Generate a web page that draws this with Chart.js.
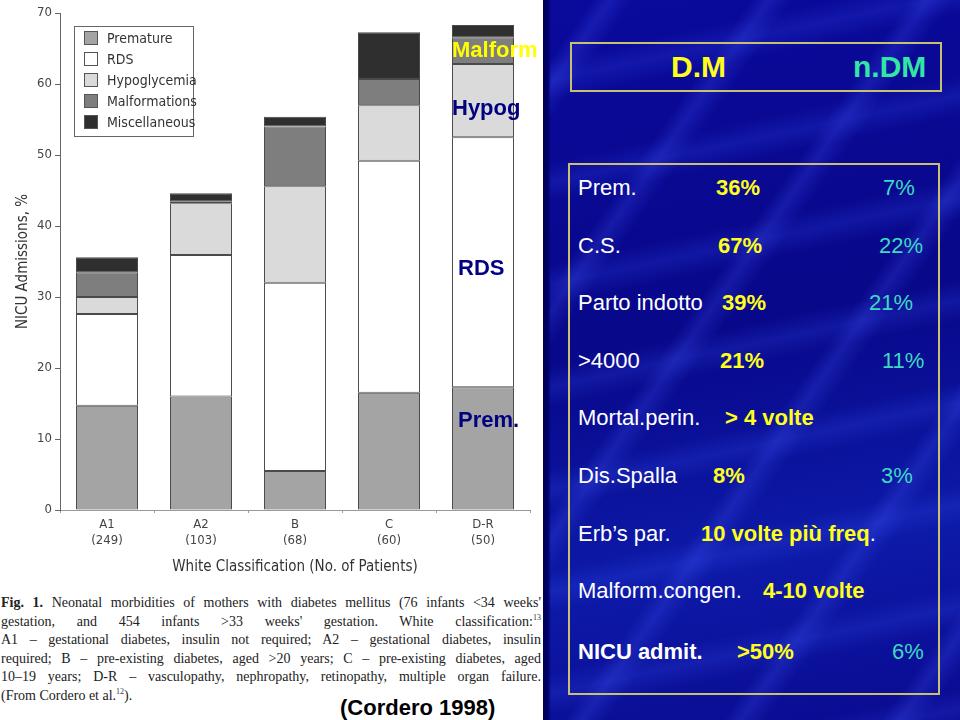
<!DOCTYPE html>
<html>
<head>
<meta charset="utf-8">
<script src="https://cdn.jsdelivr.net/npm/chart.js@4.4.0/dist/chart.umd.min.js"></script>
<style>
  html, body { margin: 0; padding: 0; }
  body { width: 960px; height: 720px; position: relative; overflow: hidden; background: #fff; }
  #white { position: absolute; left: 0; top: 0; width: 543px; height: 720px; background: #fff; }
  #chart { position: absolute; left: 0; top: 0; }
  #legend { position: absolute; left: 74px; top: 26px; width: 118px; height: 109px; border: 1px solid #666; background: #fff;
            font-family: 'Liberation Sans Narrow', 'DejaVu Sans Condensed', sans-serif; font-size: 14px; color: #333; }
  #legend div { position: absolute; left: 9px; height: 14px; line-height: 14px; white-space: nowrap; }
  #legend span { display: inline-block; width: 12px; height: 12px; border: 1px solid #555; vertical-align: top; margin-right: 9px; }
  .over { position: absolute; font-family: 'Liberation Sans', Arial, sans-serif; font-weight: bold; font-size: 22px; line-height: 22px; white-space: nowrap; }
  #caption { position: absolute; left: 1px; top: 594px; width: 540px; font-family: 'Liberation Serif', serif; font-size: 14px; color: #222; }
  #caption div { height: 18.6px; line-height: 18.6px; text-align: justify; text-align-last: justify; white-space: nowrap; }
  #caption div.last { text-align-last: left; }
  #caption sup { font-size: 8px; color: #334; line-height: 0; }
  #blue { position: absolute; left: 543px; top: 0; width: 417px; height: 720px; overflow: hidden;
          background:
            linear-gradient(90deg, #000050 0px, #00006a 5px, rgba(0,0,0,0) 8px),
            repeating-linear-gradient(125deg, rgba(60,80,255,0.0) 0px, rgba(60,80,255,0.0) 40px, rgba(70,90,255,0.22) 55px, rgba(60,80,255,0.0) 75px, rgba(60,80,255,0) 130px),
            repeating-linear-gradient(168deg, rgba(50,70,255,0) 0px, rgba(50,70,255,0) 60px, rgba(60,90,255,0.18) 80px, rgba(50,70,255,0) 100px),
            linear-gradient(170deg, #0a0a9c 0%, #08088a 45%, #0d1aa8 75%, #0a0a90 100%); }
  .box { position: absolute; border: 2px solid #c8c070; box-sizing: border-box; }
  .t { position: absolute; font-family: 'Liberation Sans', Arial, sans-serif; font-size: 22px; line-height: 22px; white-space: nowrap; color: #fff; }
  .y { color: #ffff1a; font-weight: bold; }
  .g { color: #3ed8c2; }
</style>
</head>
<body>
<div id="white"></div>
<canvas id="chart" width="543" height="580"></canvas>
<div id="legend"></div>

<div class="over" style="left:452px; top:39px; color:#ffff00;">Malform</div>
<div class="over" style="left:452px; top:97px; color:#000080;">Hypog</div>
<div class="over" style="left:458px; top:257px; color:#000080;">RDS</div>
<div class="over" style="left:458px; top:409px; color:#000080;">Prem.</div>

<div id="caption">
  <div><b>Fig. 1.</b> Neonatal morbidities of mothers with diabetes mellitus (76 infants &lt;34 weeks'</div>
  <div>gestation, and 454 infants &gt;33 weeks' gestation. White classification:<sup>13</sup></div>
  <div>A1 – gestational diabetes, insulin not required; A2 – gestational diabetes, insulin</div>
  <div>required; B – pre-existing diabetes, aged &gt;20 years; C – pre-existing diabetes, aged</div>
  <div>10–19 years; D-R – vasculopathy, nephropathy, retinopathy, multiple organ failure.</div>
  <div class="last">(From Cordero et al.<sup>12</sup>).</div>
</div>
<div class="over" style="left:340px; top:697px; color:#000; font-size:22px;">(Cordero 1998)</div>

<div id="blue"></div>
<div class="box" style="left:570px; top:42px; width:372px; height:50px;"></div>
<div class="t y" style="left:671px; top:52px; font-size:30px; line-height:30px;">D.M</div>
<div class="t" style="left:853px; top:52px; font-size:30px; line-height:30px; font-weight:bold; color:#33e6a6;">n.DM</div>
<div class="box" style="left:568px; top:163px; width:372px; height:532px;"></div>
<div id="table"></div>

<script>
// White classification groups (No. of patients)
const categories = [["A1", "(249)"], ["A2", "(103)"], ["B", "(68)"], ["C", "(60)"], ["D-R", "(50)"]];

// NICU admissions, % (stacked)
const premature     = [14.7, 16.0, 5.5, 16.5, 17.3];
const rds           = [12.9, 19.9, 26.5, 32.7, 35.2];
const hypoglycemia  = [2.4, 7.3, 13.6, 7.8, 10.3];
const malformations = [3.5, 0.3, 8.4, 3.7, 3.8];
const miscellaneous = [2.1, 1.1, 1.4, 6.6, 1.7];

const seriesNames  = ["Premature", "RDS", "Hypoglycemia", "Malformations", "Miscellaneous"];
const seriesColors = ["#a4a4a4", "#ffffff", "#dadada", "#7e7e7e", "#2f2f2f"];
const yTicks = [0, 10, 20, 30, 40, 50, 60, 70];

// right-hand table
const rowLabels = ["Prem.", "C.S.", "Parto indotto", ">4000", "Mortal.perin.", "Dis.Spalla", "Erb’s par.", "Malform.congen.", "NICU admit."];
const dmValues  = ["36%", "67%", "39%", "21%", "> 4 volte", "8%", "10 volte più freq", "4-10 volte", ">50%"];
const ndmValues = ["7%", "22%", "21%", "11%", "", "3%", "", "", "6%"];

const narrow = "'Liberation Sans Narrow', 'DejaVu Sans Condensed', sans-serif";

// legend box
const leg = document.getElementById("legend");
seriesNames.forEach((name, i) => {
  const d = document.createElement("div");
  d.style.top = (4 + i * 21) + "px";
  d.innerHTML = '<span style="background:' + seriesColors[i] + '"></span>' + name;
  leg.appendChild(d);
});

// table text
const dmX  = [716, 718, 722, 720, 725, 713, 701, 763, 737];
const ndmX = [883, 879, 869, 882, 0, 881, 0, 0, 892];
const tbl = document.getElementById("table");
rowLabels.forEach((lab, i) => {
  const top = 177 + i * 57.6 + (i == 8 ? 3 : 0);
  const bold = i == 8 ? "font-weight:bold;" : "";
  tbl.insertAdjacentHTML("beforeend",
    '<div class="t" style="left:578px; top:' + top + 'px;' + bold + '"></div>');
  tbl.lastChild.textContent = lab;
  tbl.insertAdjacentHTML("beforeend",
    '<div class="t y" style="left:' + dmX[i] + 'px; top:' + top + 'px;"></div>');
  tbl.lastChild.textContent = dmValues[i];
  if (i == 6) tbl.lastChild.insertAdjacentHTML("beforeend", '<span style="color:#fff;font-weight:normal">.</span>');
  if (ndmValues[i]) {
    tbl.insertAdjacentHTML("beforeend",
      '<div class="t g" style="left:' + ndmX[i] + 'px; top:' + top + 'px;"></div>');
    tbl.lastChild.textContent = ndmValues[i];
  }
});

const values = [premature, rds, hypoglycemia, malformations, miscellaneous];

new Chart(document.getElementById("chart"), {
  type: "bar",
  data: {
    labels: categories,
    datasets: seriesNames.map((name, i) => ({
      label: name,
      data: values[i],
      backgroundColor: seriesColors[i],
      borderColor: "#4a4a4a",
      borderWidth: 1,
      borderSkipped: false,
      categoryPercentage: 1,
      barPercentage: 0.66
    }))
  },
  options: {
    responsive: false,
    animation: false,
    layout: { padding: { left: 10, right: 13, top: 13, bottom: 0 } },
    plugins: { legend: { display: false }, tooltip: { enabled: false } },
    scales: {
      x: {
        stacked: true,
        grid: { offset: true, drawOnChartArea: false, tickLength: 3, color: "#999" },
        border: { color: "#999" },
        ticks: { color: "#444", font: { family: narrow, size: 13 }, padding: 4, maxRotation: 0 },
        title: { display: true, text: "White Classification (No. of Patients)", color: "#333",
                 font: { family: narrow, size: 15 }, padding: { top: 6 } },
        afterFit: s => { s.height = 70; }
      },
      y: {
        stacked: true,
        min: 0, max: 70,
        afterBuildTicks: s => { s.ticks = yTicks.map(v => ({ value: v })); },
        grid: { drawOnChartArea: false, tickLength: 5, color: "#666" },
        border: { color: "#666" },
        ticks: { color: "#444", font: { family: narrow, size: 13 }, padding: 3 },
        title: { display: true, text: "NICU Admissions, %", color: "#333",
                 font: { family: narrow, size: 15 }, padding: 4 },
        afterFit: s => { s.width = 50; }
      }
    }
  }
});
</script>
</body>
</html>
